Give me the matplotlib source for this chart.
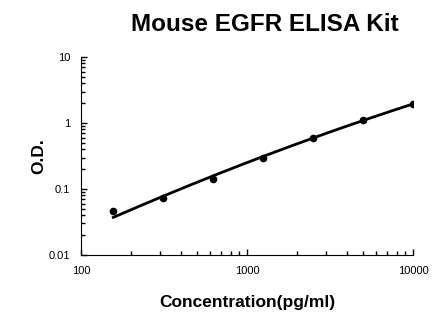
import matplotlib
matplotlib.use("Agg")
import matplotlib.pyplot as plt
import numpy as np

plt.rcParams["font.family"] = ["Liberation Sans", "DejaVu Sans"]

# standard curve readings
concentration = [156.25, 312.5, 625, 1250, 2500, 5000, 10000]
od = [0.047, 0.074, 0.140, 0.300, 0.600, 1.13, 1.92]

# trend line: quadratic fit in log-log space, weighted by sqrt(OD)
lx = np.log10(concentration)
coef = np.polyfit(lx, np.log10(od), 2, w=np.sqrt(od))
xs = np.logspace(lx[0], lx[-1], 200)
ys = 10 ** np.polyval(coef, np.log10(xs))

fig = plt.figure(figsize=(4.46, 3.26), dpi=100)
ax = fig.add_axes([0.182, 0.218, 0.744, 0.607])

ax.plot(xs, ys, color="black", linewidth=2)
ax.plot(concentration, od, "o", color="black", markersize=4.5)

ax.set_xscale("log")
ax.set_yscale("log")
ax.set_xlim(100, 10000)
ax.set_ylim(0.01, 10)
ax.set_xticks([100, 1000, 10000])
ax.set_xticklabels(["100", "1000", "10000"])
ax.set_yticks([0.01, 0.1, 1, 10])
ax.set_yticklabels(["0.01", "0.1", "1", "10"])

for side in ["top", "right"]:
    ax.spines[side].set_visible(False)
ax.tick_params(which="both", direction="in", labelsize=8, width=1)
ax.tick_params(which="major", length=4, pad=8)
ax.tick_params(which="minor", length=3)

ax.set_xlabel("Concentration(pg/ml)", fontsize=12.5, fontweight="bold", labelpad=14)
ax.set_ylabel("O.D.", fontsize=12.5, fontweight="bold", labelpad=2)
fig.suptitle("Mouse EGFR ELISA Kit", fontsize=17.5, fontweight="bold", x=0.593, y=0.96)

fig.savefig("out.png", dpi=100)
